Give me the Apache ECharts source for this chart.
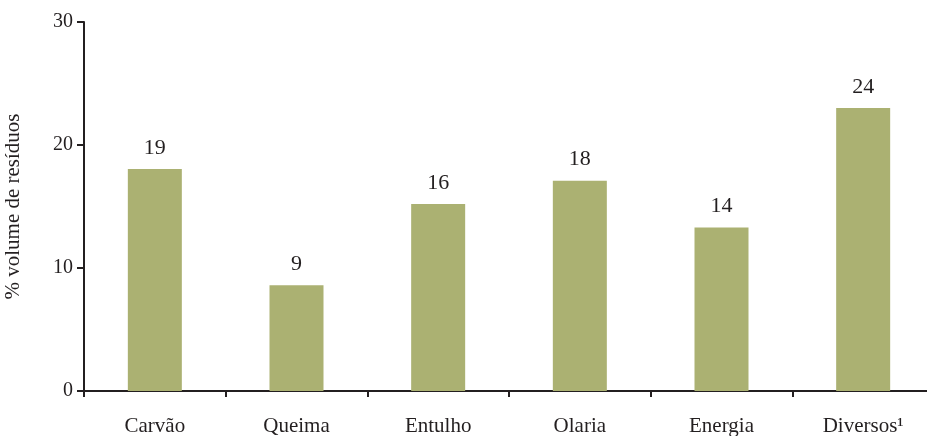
<!DOCTYPE html>
<html>
<head>
<meta charset="utf-8">
<script src="https://cdn.jsdelivr.net/npm/echarts@6/dist/echarts.min.js"></script>
<style>
    html, body { margin: 0; padding: 0; background: #fff; }
    #chart { width: 927px; height: 436px; }
</style>
</head>
<body>
<div id="chart"></div>
<script>
// categorias e valores (altura das barras, rótulo impresso acima)
const categories = ['Carvão', 'Queima', 'Entulho', 'Olaria', 'Energia', 'Diversos¹']
const barValues = [18.05, 8.6, 15.2, 17.1, 13.3, 23.0]
const barLabels = ['19', '9', '16', '18', '14', '24']
const yTicks = [0, 10, 20, 30]

const serif = '"Liberation Serif", "DejaVu Serif", serif'

let chart = echarts.init(document.getElementById('chart'))
let option = {
    backgroundColor: '#fff',
    animation: false,
    grid: {
        left: 84,
        top: 22,
        width: 850,
        height: 369,
        containLabel: false,
        outerBoundsMode: 'none'
    },
    xAxis: {
        type: 'category',
        data: categories,
        axisLine: { lineStyle: { color: '#231f20', width: 2 } },
        axisTick: { show: true, length: 6, lineStyle: { color: '#231f20', width: 2 } },
        axisLabel: { color: '#231f20', fontFamily: serif, fontSize: 21, margin: 25 }
    },
    yAxis: {
        type: 'value',
        min: yTicks[0],
        max: yTicks[yTicks.length - 1],
        interval: 10,
        name: '% volume de resíduos',
        nameLocation: 'middle',
        nameGap: 60,
        nameTextStyle: { color: '#231f20', fontFamily: serif, fontSize: 21 },
        axisLine: { show: true, lineStyle: { color: '#231f20', width: 2 } },
        axisTick: { show: true, length: 7, lineStyle: { color: '#231f20', width: 2 } },
        axisLabel: { color: '#231f20', fontFamily: serif, fontSize: 20, margin: 11 },
        splitLine: { show: false }
    },
    series: [{
        type: 'bar',
        data: barValues,
        barWidth: 54,
        itemStyle: { color: '#abb172' },
        label: {
            show: true,
            position: 'top',
            distance: 10,
            color: '#231f20',
            fontFamily: serif,
            fontSize: 22,
            formatter: p => barLabels[p.dataIndex]
        }
    }]
}
chart.setOption(option)
</script>
</body>
</html>
